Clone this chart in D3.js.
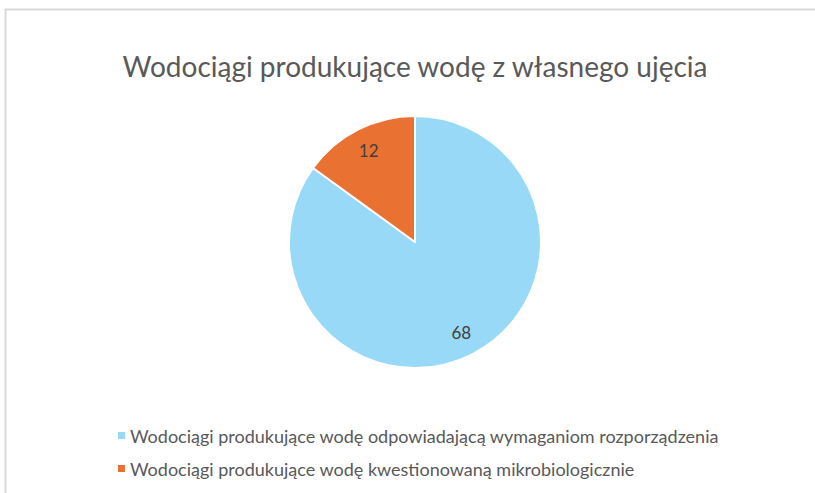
<!DOCTYPE html>
<html>
<head>
<meta charset="utf-8">
<script src="https://cdn.jsdelivr.net/npm/d3@7"></script>
<style>
  body { margin: 0; background: #fff; }
  svg { display: block; font-family: Lato, "Open Sans", sans-serif; }
</style>
</head>
<body>
<script>
// chart data
var categories = [
  "Wodociągi produkujące wodę odpowiadającą wymaganiom rozporządzenia",
  "Wodociągi produkujące wodę kwestionowaną mikrobiologicznie"
];
var values = [68, 12];
var colors = ["#97d9f6", "#e97132"];
var title = "Wodociągi produkujące wodę z własnego ujęcia";

var width = 815,
    height = 493;

var svg = d3.select("body").append("svg")
    .attr("width", width)
    .attr("height", height);

// chart area border (only top and left visible in the crop)
svg.append("path")
    .attr("d", "M5.5," + height + "V9.5H" + width)
    .attr("fill", "none")
    .attr("stroke", "#d9d9d9")
    .attr("stroke-width", 2);

svg.append("text")
    .attr("x", 415)
    .attr("y", 77)
    .attr("text-anchor", "middle")
    .attr("fill", "#595959")
    .style("font-size", "28px")
    .text(title);

var cx = 415, cy = 242, r = 126;

var pie = d3.pie().sort(null).value(function(d) { return d; });
var arc = d3.arc().innerRadius(0).outerRadius(r);
var labelArc = d3.arc().innerRadius(102).outerRadius(102);

var g = svg.append("g")
    .attr("transform", "translate(" + cx + "," + cy + ")");

var slices = pie(values);

g.selectAll("path")
  .data(slices)
  .enter()
  .append("path")
    .attr("d", arc)
    .attr("fill", function(d, i) { return colors[i]; })
    .attr("stroke", "#fff")
    .attr("stroke-width", 2)
    .attr("stroke-linejoin", "round");

g.selectAll("text")
  .data(slices)
  .enter()
  .append("text")
    .attr("transform", function(d) { return "translate(" + labelArc.centroid(d) + ")"; })
    .attr("text-anchor", "middle")
    .attr("dy", "0.35em")
    .attr("fill", "#404040")
    .style("font-size", "17px")
    .text(function(d) { return d.data; });

// legend
var legend = svg.append("g");
var items = legend.selectAll("g")
  .data(categories)
  .enter()
  .append("g")
    .attr("transform", function(d, i) { return "translate(118," + (437 + i * 33) + ")"; });

items.append("rect")
    .attr("x", 0)
    .attr("y", -5)
    .attr("width", 7)
    .attr("height", 7)
    .attr("fill", function(d, i) { return colors[i]; });

items.append("text")
    .attr("x", 12)
    .attr("y", 0)
    .attr("dy", "0.35em")
    .attr("fill", "#595959")
    .style("font-size", "18px")
    .text(function(d) { return d; });
</script>
</body>
</html>
